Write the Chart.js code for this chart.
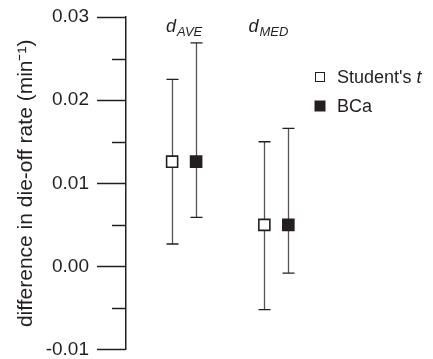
<!DOCTYPE html>
<html>
<head>
<meta charset="utf-8">
<script src="https://cdn.jsdelivr.net/npm/chart.js@4"></script>
<style>
  html, body { margin: 0; padding: 0; background: #fff; }
  #wrap { width: 433px; height: 359px; }
</style>
</head>
<body>
<div id="wrap"><canvas id="chart"></canvas></div>
<script>
// valeurs
const categories = ["d_AVE", "d_MED"];
const seriesNames = ["Student's t", "BCa"];
const studentMean = [0.0126, 0.0050];
const studentLow = [0.0027, -0.0052];
const studentHigh = [0.0225, 0.0150];
const bcaMean = [0.0126, 0.0050];
const bcaLow = [0.0059, -0.0008];
const bcaHigh = [0.0269, 0.0166];
const yTicks = [-0.01, 0.00, 0.01, 0.02, 0.03];

const ink = "#231f20";
const fontFam = "'Liberation Sans', Arial, sans-serif";

// graduations majeures + intermediaires
const tickValues = [];
yTicks.forEach((v, i) => {
    tickValues.push(v);
    if (i < yTicks.length - 1) tickValues.push((v + yTicks[i + 1]) / 2);
});
const isMajor = v => yTicks.some(t => Math.abs(t - v) < 1e-9);

function points(mean, lo, hi, shift) {
    return mean.map((m, i) => ({ x: i + 1 + shift, y: m, lo: lo[i], hi: hi[i] }));
}

// barres d'erreur (intervalles de confiance)
const errorBars = {
    id: "errorBars",
    beforeDatasetsDraw(chart) {
        const { ctx, scales: { x, y } } = chart;
        ctx.save();
        chart.data.datasets.forEach(ds => {
            ds.data.forEach(p => {
                const px = Math.round(x.getPixelForValue(p.x)) + 0.5;
                const top = y.getPixelForValue(p.hi);
                const bot = y.getPixelForValue(p.lo);
                ctx.strokeStyle = "#555";
                ctx.lineWidth = 1.3;
                ctx.beginPath();
                ctx.moveTo(px, top);
                ctx.lineTo(px, bot);
                ctx.stroke();
                ctx.strokeStyle = ink;
                ctx.beginPath();
                ctx.moveTo(px - 6, top); ctx.lineTo(px + 6, top);
                ctx.moveTo(px - 6, bot); ctx.lineTo(px + 6, bot);
                ctx.stroke();
            });
        });
        ctx.restore();
    }
};

// petites graduations, etiquettes de categories et legende
const decorations = {
    id: "decorations",
    afterDraw(chart) {
        const { ctx, scales: { x, y } } = chart;
        ctx.save();

        ctx.strokeStyle = ink;
        ctx.lineWidth = 1.5;
        tickValues.filter(v => !isMajor(v)).forEach(v => {
            const py = Math.round(y.getPixelForValue(v)) + 0.5;
            ctx.beginPath();
            ctx.moveTo(y.right - 14, py);
            ctx.lineTo(y.right, py);
            ctx.stroke();
        });

        // d_AVE, d_MED
        const shift = [0, -8];
        ctx.fillStyle = ink;
        ctx.textBaseline = "alphabetic";
        categories.forEach((c, i) => {
            const [main, sub] = c.split("_");
            ctx.font = "italic 18px " + fontFam;
            const w1 = ctx.measureText(main).width;
            ctx.font = "italic 13px " + fontFam;
            const w2 = ctx.measureText(sub).width;
            const cx = x.getPixelForValue(i + 1) + shift[i];
            const left = cx - (w1 + w2 + 1) / 2;
            ctx.textAlign = "left";
            ctx.font = "italic 18px " + fontFam;
            ctx.fillText(main, left, 32);
            ctx.font = "italic 13px " + fontFam;
            ctx.fillText(sub, left + w1 + 1, 36);
        });

        // legende
        const lx = 320, rows = [77, 106];
        ctx.lineWidth = 1;
        ctx.fillStyle = "#fff";
        ctx.fillRect(lx - 5, rows[0] - 5, 10, 10);
        ctx.strokeRect(lx - 4.5, rows[0] - 4.5, 9, 9);
        ctx.fillStyle = ink;
        ctx.fillRect(lx - 5.5, rows[1] - 5.5, 11, 11);

        ctx.font = "18px " + fontFam;
        const base = "Student's ";
        ctx.fillText(base, 337, rows[0] + 6);
        const bw = ctx.measureText(base).width;
        ctx.font = "italic 18px " + fontFam;
        ctx.fillText("t", 337 + bw, rows[0] + 6);
        ctx.font = "18px " + fontFam;
        ctx.fillText(seriesNames[1], 337, rows[1] + 6);

        ctx.restore();
    }
};

new Chart(document.getElementById("chart"), {
    type: "scatter",
    data: {
        datasets: [
            {
                label: seriesNames[0],
                data: points(studentMean, studentLow, studentHigh, -0.13),
                pointStyle: "rect",
                pointRadius: 7.8,
                pointBorderWidth: 1.6,
                borderColor: ink,
                backgroundColor: "#fff"
            },
            {
                label: seriesNames[1],
                data: points(bcaMean, bcaLow, bcaHigh, 0.13),
                pointStyle: "rect",
                pointRadius: 7.8,
                pointBorderWidth: 1.6,
                borderColor: ink,
                backgroundColor: ink
            }
        ]
    },
    options: {
        responsive: true,
        maintainAspectRatio: false,
        devicePixelRatio: 1,
        animation: false,
        layout: { padding: { left: 0, right: 10, top: 17, bottom: 7 } },
        plugins: { legend: { display: false }, tooltip: { enabled: false } },
        scales: {
            x: { type: "linear", min: 0.37, max: 3.59, display: false },
            y: {
                min: yTicks[0],
                max: yTicks[yTicks.length - 1],
                afterBuildTicks(scale) {
                    scale.ticks = tickValues.map(v => ({ value: v }));
                },
                afterFit(scale) {
                    scale.width = 126;
                    scale.paddingTop = 0;
                    scale.paddingBottom = 0;
                },
                border: { display: true, color: ink, width: 1.5 },
                grid: {
                    drawOnChartArea: false,
                    tickLength: 29,
                    tickWidth: 1.5,
                    tickColor: c => isMajor(c.tick.value) ? ink : "rgba(0,0,0,0)"
                },
                ticks: {
                    padding: 8,
                    color: ink,
                    font: { family: fontFam, size: 19 },
                    callback: v => isMajor(v) ? v.toFixed(2) : ""
                },
                title: {
                    display: true,
                    text: "difference in die-off rate (min\u207B\u00B9)",
                    color: ink,
                    font: { family: fontFam, size: 21 },
                    padding: { top: 14, bottom: 0 }
                }
            }
        }
    },
    plugins: [errorBars, decorations]
});
</script>
</body>
</html>
